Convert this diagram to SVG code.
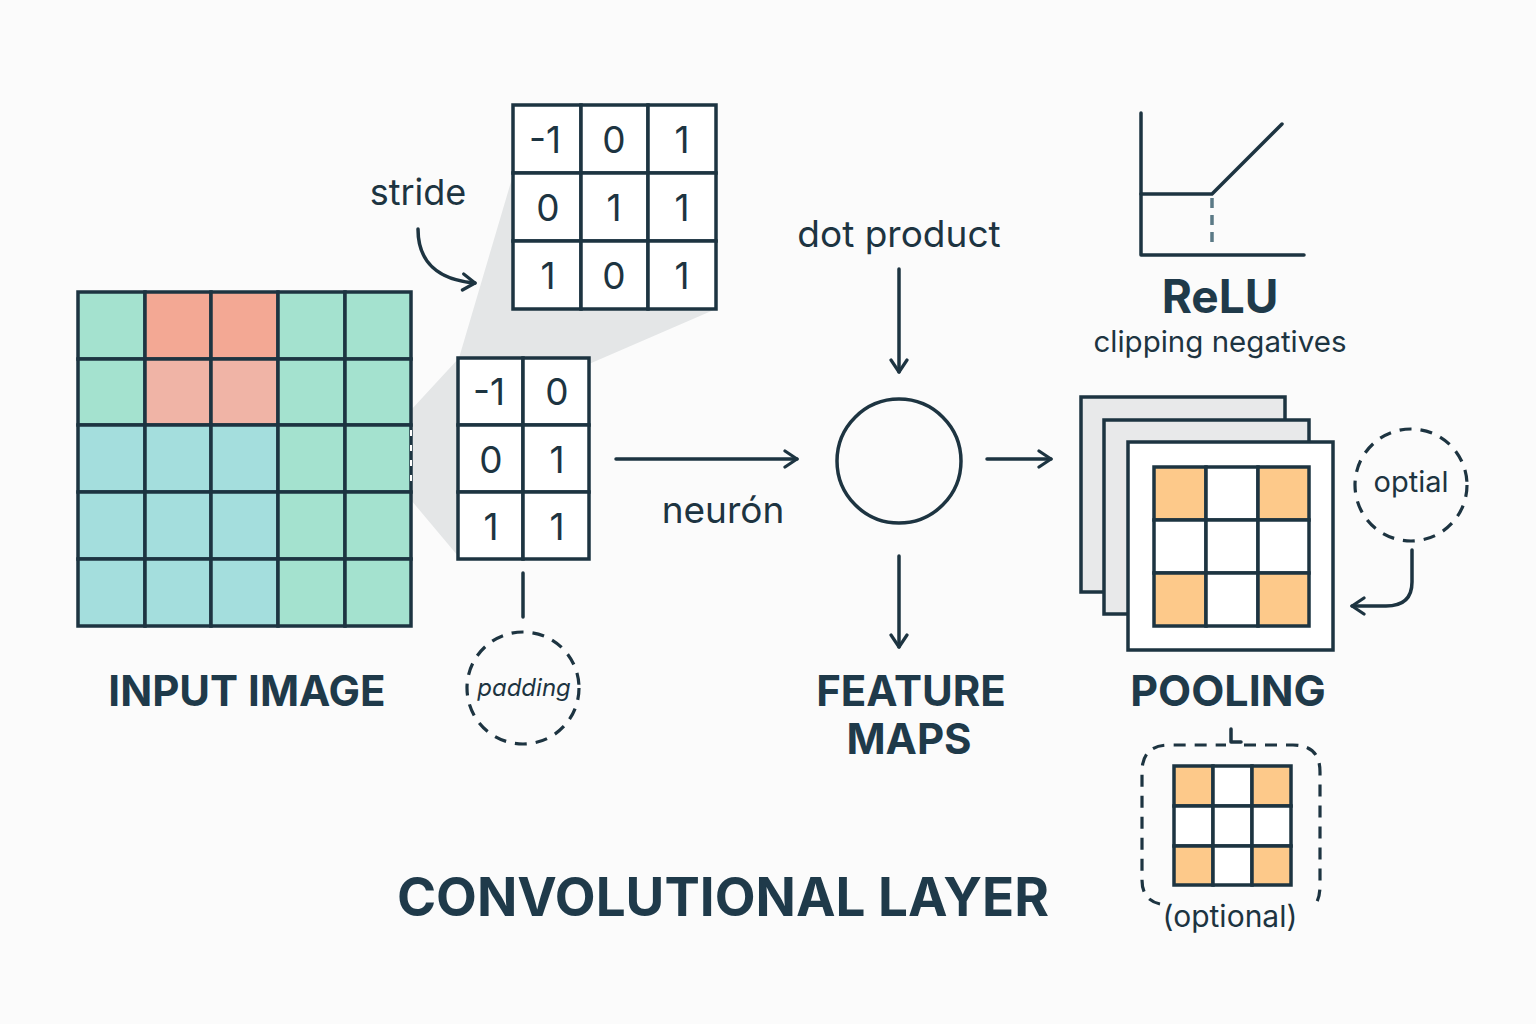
<svg xmlns="http://www.w3.org/2000/svg" width="1536" height="1024" viewBox="0 0 1536 1024">
<defs>
<style>
.ln{stroke:#1d3441;stroke-width:3.5;fill:none;stroke-linecap:round;stroke-linejoin:round}
.cell{stroke:#1d3441;stroke-width:3.5}
.g{fill:#a4e2cf}.r{fill:#f3a894}.r2{fill:#f0b4a6}.c{fill:#a4dedd}.o{fill:#fdc98a}.w{fill:#ffffff}
.t{font-family:Inter,"Liberation Sans",sans-serif;fill:#1d3441}
.num{font-family:Inter,"Liberation Sans",sans-serif;fill:#1d3441;font-size:37px;text-anchor:middle}
.h{font-family:Inter,"Liberation Sans",sans-serif;fill:#1f3a4a;font-weight:700;text-anchor:middle}
.dash{stroke:#1d3441;stroke-width:3.2;fill:none;stroke-dasharray:12 9}
</style>
<marker id="arr" viewBox="0 0 20 20" refX="17" refY="10" markerWidth="20" markerHeight="20" markerUnits="userSpaceOnUse" orient="auto">
<path d="M5,2 L17,10 L5,18" fill="none" stroke="#1d3441" stroke-width="3.2" stroke-linecap="round" stroke-linejoin="round"/>
</marker>
</defs>
<rect width="1536" height="1024" fill="#fbfbfb"/>

<!-- projection wedge -->
<polygon points="513,175 716,309 589,364 589,545 458,556 411,500 411,410 459,358" fill="#e4e6e7"/>

<g id="input-image">
<rect class="cell g" x="78" y="292" width="67" height="67"/>
<rect class="cell r" x="145" y="292" width="66" height="67"/>
<rect class="cell r" x="211" y="292" width="67" height="67"/>
<rect class="cell g" x="278" y="292" width="67" height="67"/>
<rect class="cell g" x="345" y="292" width="66" height="67"/>
<rect class="cell g" x="78" y="359" width="67" height="66"/>
<rect class="cell r2" x="145" y="359" width="66" height="66"/>
<rect class="cell r2" x="211" y="359" width="67" height="66"/>
<rect class="cell g" x="278" y="359" width="67" height="66"/>
<rect class="cell g" x="345" y="359" width="66" height="66"/>
<rect class="cell c" x="78" y="425" width="67" height="67"/>
<rect class="cell c" x="145" y="425" width="66" height="67"/>
<rect class="cell c" x="211" y="425" width="67" height="67"/>
<rect class="cell g" x="278" y="425" width="67" height="67"/>
<rect class="cell g" x="345" y="425" width="66" height="67"/>
<rect class="cell c" x="78" y="492" width="67" height="67"/>
<rect class="cell c" x="145" y="492" width="66" height="67"/>
<rect class="cell c" x="211" y="492" width="67" height="67"/>
<rect class="cell g" x="278" y="492" width="67" height="67"/>
<rect class="cell g" x="345" y="492" width="66" height="67"/>
<rect class="cell c" x="78" y="559" width="67" height="67"/>
<rect class="cell c" x="145" y="559" width="66" height="67"/>
<rect class="cell c" x="211" y="559" width="67" height="67"/>
<rect class="cell g" x="278" y="559" width="67" height="67"/>
<rect class="cell g" x="345" y="559" width="66" height="67"/>
<line x1="411" y1="430" x2="411" y2="490" stroke="#ffffff" stroke-width="2" stroke-dasharray="6 9"/>
<text class="h" x="247" y="706" font-size="42">INPUT IMAGE</text>
</g>

<g id="kernel-3x3">
<rect class="cell w" x="513" y="105" width="68" height="68"/>
<rect class="cell w" x="581" y="105" width="67" height="68"/>
<rect class="cell w" x="648" y="105" width="68" height="68"/>
<rect class="cell w" x="513" y="173" width="68" height="68"/>
<rect class="cell w" x="581" y="173" width="67" height="68"/>
<rect class="cell w" x="648" y="173" width="68" height="68"/>
<rect class="cell w" x="513" y="241" width="68" height="68"/>
<rect class="cell w" x="581" y="241" width="67" height="68"/>
<rect class="cell w" x="648" y="241" width="68" height="68"/>
<text class="num" x="545" y="153">-1</text>
<text class="num" x="614" y="153">0</text>
<text class="num" x="682" y="153">1</text>
<text class="num" x="548" y="221">0</text>
<text class="num" x="614" y="221">1</text>
<text class="num" x="682" y="221">1</text>
<text class="num" x="548" y="289">1</text>
<text class="num" x="614" y="289">0</text>
<text class="num" x="682" y="289">1</text>
</g>

<g id="kernel-small">
<rect class="cell w" x="458" y="358" width="65" height="67"/>
<rect class="cell w" x="523" y="358" width="66" height="67"/>
<rect class="cell w" x="458" y="425" width="65" height="67"/>
<rect class="cell w" x="523" y="425" width="66" height="67"/>
<rect class="cell w" x="458" y="492" width="65" height="67"/>
<rect class="cell w" x="523" y="492" width="66" height="67"/>
<text class="num" x="489" y="405">-1</text>
<text class="num" x="557" y="405">0</text>
<text class="num" x="491" y="473">0</text>
<text class="num" x="557" y="473">1</text>
<text class="num" x="491" y="540">1</text>
<text class="num" x="557" y="540">1</text>
</g>

<g id="stride">
<text class="t" x="418" y="205" font-size="36" text-anchor="middle">stride</text>
</g>

<g id="padding">
<circle cx="523" cy="688" r="56" class="dash"/>
<text class="t" x="524" y="696" font-size="24" font-style="italic" text-anchor="middle">padding</text>
</g>

<g id="neuron">
<circle cx="899" cy="461" r="62" fill="none" stroke="#1d3441" stroke-width="3.5"/>
</g>

<g id="labels">
<text class="t" x="899" y="247" font-size="37" text-anchor="middle">dot product</text>
<text class="t" x="723" y="523" font-size="37" text-anchor="middle">neurón</text>
<text class="h" x="911" y="706" font-size="42">FEATURE</text>
<text class="h" x="909" y="754" font-size="42">MAPS</text>
</g>

<g id="relu">
<path class="ln" d="M1141,113 L1141,255 L1304,255"/>
<path class="ln" d="M1141,194 L1212,194 L1282,124"/>
<line x1="1212" y1="198" x2="1212" y2="243" stroke="#5b7a86" stroke-width="3.5" stroke-dasharray="10 7"/>
<text class="h" x="1220" y="313" font-size="46">ReLU</text>
<text class="t" x="1220" y="352" font-size="29.5" text-anchor="middle">clipping negatives</text>
</g>

<g id="pooling">
<rect x="1081" y="397" width="204" height="195" fill="#e8e9ea" stroke="#1d3441" stroke-width="3.5"/>
<rect x="1104" y="420" width="205" height="194" fill="#e8e9ea" stroke="#1d3441" stroke-width="3.5"/>
<rect x="1128" y="442" width="205" height="208" fill="#ffffff" stroke="#1d3441" stroke-width="3.5"/>
<rect class="cell o" x="1154" y="467" width="52" height="53"/>
<rect class="cell w" x="1206" y="467" width="52" height="53"/>
<rect class="cell o" x="1258" y="467" width="51" height="53"/>
<rect class="cell w" x="1154" y="520" width="52" height="53"/>
<rect class="cell w" x="1206" y="520" width="52" height="53"/>
<rect class="cell w" x="1258" y="520" width="51" height="53"/>
<rect class="cell o" x="1154" y="573" width="52" height="53"/>
<rect class="cell w" x="1206" y="573" width="52" height="53"/>
<rect class="cell o" x="1258" y="573" width="51" height="53"/>
<text class="h" x="1228" y="706" font-size="43">POOLING</text>
</g>

<g id="optial">
<circle cx="1411" cy="485" r="56" class="dash"/>
<text class="t" x="1411" y="492" font-size="29" text-anchor="middle">optial</text>
</g>

<g id="optional">
<path class="dash" d="M1160,904 Q1142,900 1142,880 L1142,772 Q1142,745 1169,745 L1226,745 M1244,745 L1293,745 Q1320,745 1320,772 L1320,885 Q1320,900 1314,906"/>
<path class="ln" d="M1231,729 L1231,742 L1241,742" stroke-width="3"/>
<rect class="cell o" x="1174" y="766" width="39" height="40"/>
<rect class="cell w" x="1213" y="766" width="39" height="40"/>
<rect class="cell o" x="1252" y="766" width="39" height="40"/>
<rect class="cell w" x="1174" y="806" width="39" height="40"/>
<rect class="cell w" x="1213" y="806" width="39" height="40"/>
<rect class="cell w" x="1252" y="806" width="39" height="40"/>
<rect class="cell o" x="1174" y="846" width="39" height="39"/>
<rect class="cell w" x="1213" y="846" width="39" height="39"/>
<rect class="cell o" x="1252" y="846" width="39" height="39"/>
<text class="t" x="1230" y="927" font-size="30" text-anchor="middle">(optional)</text>
</g>

<g id="title">
<text class="h" x="723" y="916" font-size="53">CONVOLUTIONAL LAYER</text>
</g>

<g id="connectors">
<path class="ln" d="M418,229 C418,262 438,280 475,283" marker-end="url(#arr)"/>
<path class="ln" d="M899,269 L899,372" marker-end="url(#arr)"/>
<path class="ln" d="M616,459 L797,459" marker-end="url(#arr)"/>
<path class="ln" d="M987,459 L1051,459" marker-end="url(#arr)"/>
<path class="ln" d="M899,556 L899,647" marker-end="url(#arr)"/>
<path class="ln" d="M523,573 L523,617"/>
<path class="ln" d="M1412,550 L1412,582 Q1412,606 1386,606 L1352,606" marker-end="url(#arr)"/>
</g>
</svg>
